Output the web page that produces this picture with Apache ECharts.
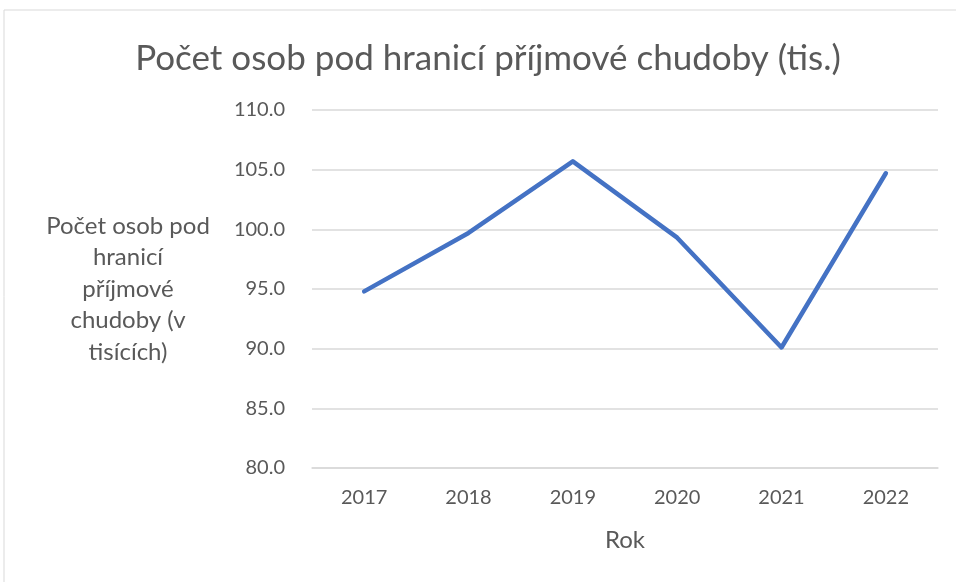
<!DOCTYPE html>
<html>
<head>
<meta charset="utf-8">
<script src="https://cdn.jsdelivr.net/npm/echarts@6/dist/echarts.min.js"></script>
<style>
html, body { margin: 0; padding: 0; background: #fff; }
#chart { width: 956px; height: 582px; }
</style>
</head>
<body>
<div id="chart"></div>
<script>
// data
var years = ['2017', '2018', '2019', '2020', '2021', '2022'];
var persons = [94.8, 99.7, 105.7, 99.3, 90.1, 104.7];

var myChart = echarts.init(document.getElementById('chart'));
var font = 'Lato';
var option = {
    animation: false,
    backgroundColor: '#fff',
    title: {
        text: 'Počet osob pod hranicí příjmové chudoby (tis.)',
        left: 483,
        top: 36,
        textAlign: 'center',
        textStyle: { fontFamily: font, fontSize: 35, fontWeight: 'normal', color: '#595959' }
    },
    graphic: [{
        type: 'rect',
        shape: { x: 4, y: 10, width: 1000, height: 1000 },
        style: { fill: 'none', stroke: '#d9d9d9', lineWidth: 1 },
        silent: true
    }],
    grid: { left: 312, right: 18, top: 110, bottom: 114 },
    xAxis: {
        type: 'category',
        data: years,
        name: 'Rok',
        nameLocation: 'middle',
        nameGap: 60,
        nameTextStyle: { fontFamily: font, fontSize: 24, color: '#595959' },
        axisLine: { show: true, lineStyle: { color: '#d9d9d9', width: 1.5 } },
        axisTick: { show: false },
        axisLabel: { fontFamily: font, fontSize: 20, color: '#595959', margin: 20 }
    },
    yAxis: {
        type: 'value',
        min: 80,
        max: 110,
        interval: 5,
        name: 'Počet osob pod\nhranicí\npříjmové\nchudoby (v\ntisících)',
        nameLocation: 'middle',
        nameRotate: 0,
        nameGap: 184,
        nameTextStyle: { fontFamily: font, fontSize: 24, color: '#595959', align: 'center', lineHeight: 31.5, padding: [3, 0, 0, 0] },
        axisLine: { show: false },
        axisTick: { show: false },
        axisLabel: {
            fontFamily: font, fontSize: 20, color: '#595959', margin: 27,
            formatter: function (v) { return v.toFixed(1); }
        },
        splitLine: { lineStyle: { color: '#d9d9d9', width: 1.5 } }
    },
    series: [{
        type: 'line',
        data: persons,
        showSymbol: false,
        lineStyle: { color: '#4472c4', width: 4.5, cap: 'round', join: 'round' }
    }]
};
myChart.setOption(option);
</script>
</body>
</html>
